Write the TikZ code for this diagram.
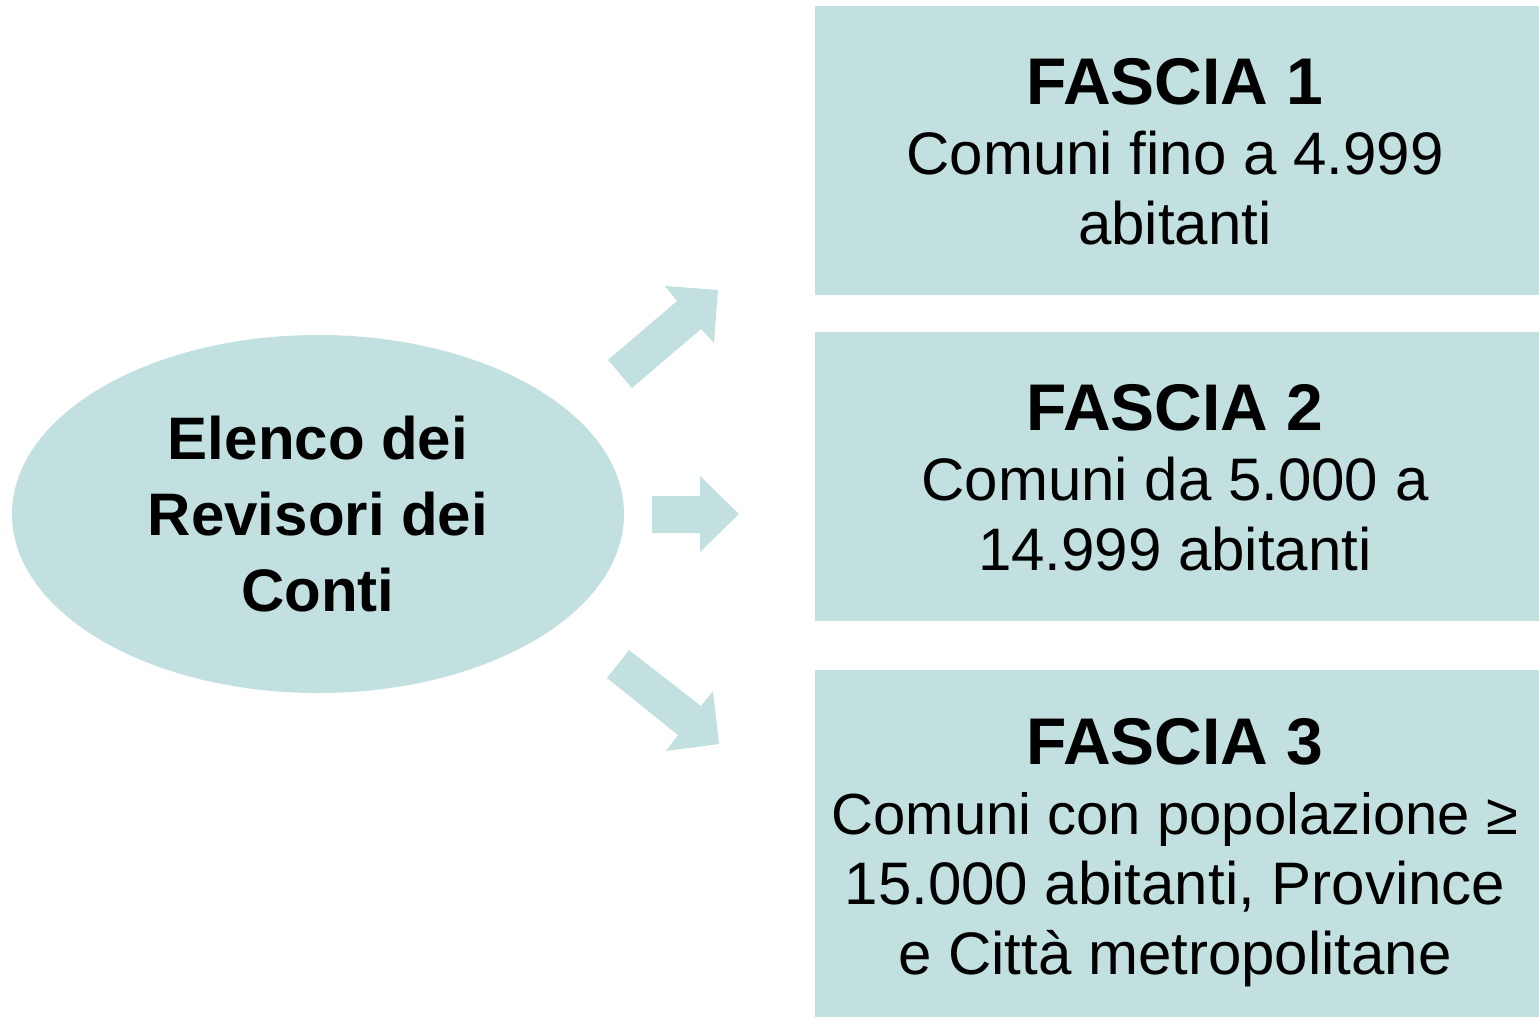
\documentclass[tikz,border=0pt]{standalone}
\usepackage{fontspec}
\setmainfont{Liberation Sans}
\definecolor{teal1}{RGB}{194,224,224}
\begin{document}
\begin{tikzpicture}[x=0.5pt,y=-0.5pt,
  fascia/.style={fill=teal1,draw=none,inner sep=0pt,align=center,text=black,
    font=\fontsize{30}{35}\selectfont},
  arrowshape/.style={fill=teal1,draw=none}]
\useasboundingbox (0,0) rectangle (1539,1017);
% ellipse
\fill[teal1] (318,514) ellipse [x radius=306, y radius=179];
\node[align=center,font=\fontsize{30}{38}\selectfont\bfseries] (elenco) at (318,514)
  {Elenco dei\\Revisori dei\\Conti};
% boxes
\fill[teal1] (815,6) rectangle (1539,295);
\fill[teal1] (815,332) rectangle (1539,621);
\fill[teal1] (815,670) rectangle (1539,1017);
\node[fascia] (f1) at (1175,152)
  {{\fontsize{33}{36}\selectfont\bfseries FASCIA 1}\\Comuni fino a 4.999\\abitanti};
\node[fascia] (f2) at (1175,478)
  {{\fontsize{33}{36}\selectfont\bfseries FASCIA 2}\\Comuni da 5.000 a\\14.999 abitanti};
\node[fascia] (f3) at (1175,853)
  {{\fontsize{33}{36}\selectfont\bfseries FASCIA 3}\\{\fontsize{29}{35}\selectfont Comuni con popolazione ≥}\\15.000 abitanti, Province\\e Città metropolitane};
% arrows
\fill[arrowshape] (608,360) -- (677,301) -- (665,286) -- (718,290) -- (714,343) -- (701,329) -- (632,388) -- cycle;
\fill[arrowshape] (652,496) -- (700,496) -- (700,476) -- (739,514) -- (700,552) -- (700,533) -- (652,533) -- cycle;
\fill[arrowshape] (629,650) -- (701,706) -- (713,691) -- (719,744) -- (666,751) -- (678,735) -- (607,678) -- cycle;
\end{tikzpicture}
\end{document}
